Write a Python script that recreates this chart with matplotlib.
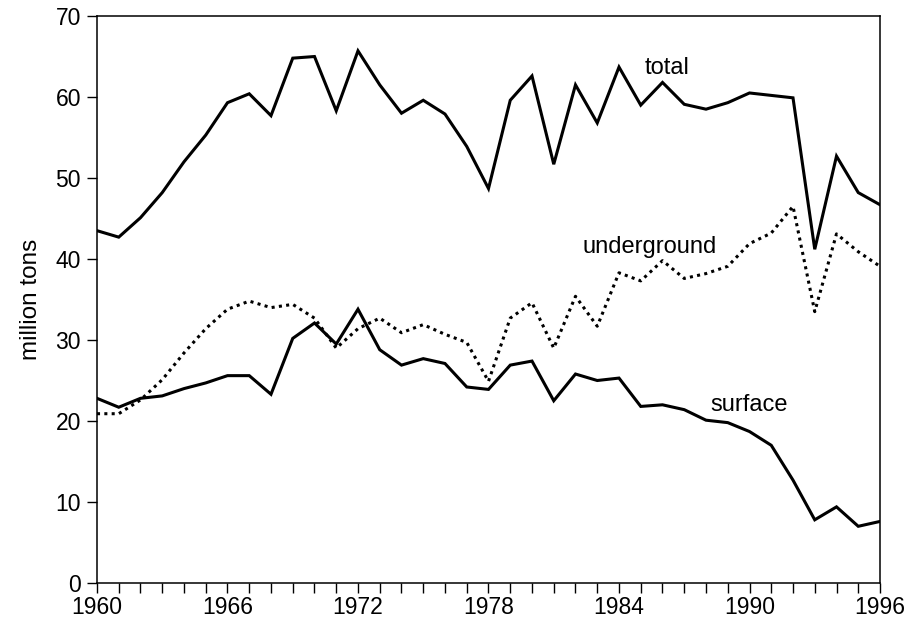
import matplotlib
matplotlib.use("Agg")
import matplotlib.pyplot as plt
from matplotlib.ticker import MultipleLocator, FixedLocator

plt.rcParams['font.family'] = ['Liberation Sans', 'DejaVu Sans']

years = list(range(1960, 1997))

total = [43.5, 42.7, 45.1, 48.2, 52.0, 55.3, 59.3, 60.4, 57.7, 64.8,
         65.0, 58.3, 65.7, 61.5, 58.0, 59.6, 57.9, 53.9, 48.7, 59.6,
         62.6, 51.7, 61.5, 56.8, 63.7, 59.0, 61.8, 59.1, 58.5, 59.3,
         60.5, 60.2, 59.9, 41.2, 52.7, 48.2, 46.7]

underground = [20.9, 20.9, 22.6, 25.1, 28.4, 31.4, 33.8, 34.8, 34.0, 34.4,
               32.7, 29.0, 31.4, 32.7, 30.9, 31.9, 30.7, 29.7, 24.9, 32.7,
               34.6, 29.0, 35.4, 31.7, 38.3, 37.3, 39.8, 37.6, 38.2, 39.1,
               41.9, 43.2, 46.5, 33.5, 43.1, 40.9, 39.1]

surface = [22.8, 21.7, 22.8, 23.1, 24.0, 24.7, 25.6, 25.6, 23.3, 30.2,
           32.1, 29.5, 33.8, 28.8, 26.9, 27.7, 27.1, 24.2, 23.9, 26.9,
           27.4, 22.5, 25.8, 25.0, 25.3, 21.8, 22.0, 21.4, 20.1, 19.8,
           18.7, 17.0, 12.7, 7.8, 9.4, 7.0, 7.6]

year_ticks = list(range(1960, 1997, 6))

fig = plt.figure(figsize=(9.09, 6.26), dpi=100)
ax = fig.add_axes([0.1067, 0.0687, 0.8614, 0.9057])

ax.plot(years, total, color='black', lw=2.2, solid_joinstyle='miter')
ax.plot(years, underground, color='black', lw=2.2, linestyle=(0, (1, 1.4)))
ax.plot(years, surface, color='black', lw=2.2, solid_joinstyle='miter')

ax.text(1986.2, 63.6, 'total', fontsize=17, ha='center', va='center')
ax.text(1985.4, 41.5, 'underground', fontsize=17, ha='center', va='center')
ax.text(1990.0, 22.0, 'surface', fontsize=17, ha='center', va='center')

ax.set_xlim(1960, 1996)
ax.set_ylim(0, 70)
ax.xaxis.set_major_locator(FixedLocator(year_ticks))
ax.xaxis.set_minor_locator(MultipleLocator(1))
ax.yaxis.set_major_locator(MultipleLocator(10))
ax.tick_params(which='both', direction='out', length=7.5, width=1, labelsize=16.5)
ax.tick_params(axis='x', pad=2)
ax.tick_params(axis='y', pad=4)
for s in ax.spines.values():
    s.set_linewidth(1.1)

ax.set_ylabel('million tons', fontsize=17.5, labelpad=10)

fig.savefig('out.png', dpi=100)
